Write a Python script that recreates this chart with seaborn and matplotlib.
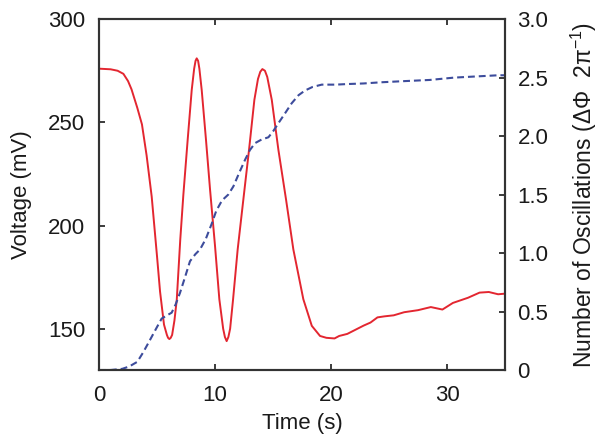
import matplotlib
matplotlib.use("Agg")
import matplotlib.pyplot as plt
import seaborn as sns

sns.set_style("ticks")
plt.rcParams['font.family'] = ['Liberation Sans', 'DejaVu Sans']
plt.rcParams['mathtext.fontset'] = 'custom'
plt.rcParams['mathtext.rm'] = 'Liberation Sans'
plt.rcParams['mathtext.it'] = 'Liberation Sans:italic'

# voltage trace (mV) vs time (s)
time_v = [0, 1, 1.6, 2.1, 2.5, 2.8, 3.3, 3.7, 4.1, 4.54, 5.0, 5.26, 5.6, 5.85,
          5.95, 6.06, 6.18, 6.3, 6.5, 6.7, 7.0, 7.27, 7.64, 7.99, 8.2, 8.32, 8.42,
          8.54, 8.65, 8.85, 9.22, 9.57, 10.0, 10.37, 10.7, 10.85, 11.0, 11.15,
          11.3, 11.55, 11.95, 12.44, 12.93, 13.39, 13.7, 13.9, 14.08, 14.3, 14.5,
          14.89, 15.46, 16.12, 16.75, 17.61, 18.34, 19.05, 19.6, 20.3, 20.7, 21.4,
          22.1, 22.8, 23.4, 24.0, 24.6, 25.4, 26.3, 27.5, 28.6, 29.6, 30.5, 31.8,
          32.8, 33.6, 34.4, 35]
voltage = [276, 275.7, 275, 273.5, 270, 266, 257, 249, 234, 214, 185, 168, 152,
           147, 145.6, 145, 145.6, 147, 154, 164, 193, 215, 241.5, 265.7, 276,
           279.8, 281, 279.8, 276, 265.7, 241.5, 217.4, 190, 164.3, 150, 146, 144,
           146, 150, 164, 188.4, 212.6, 236.7, 260.9, 271, 274.5, 275.8, 275,
           272, 260.9, 236.7, 212.6, 188.4, 164.3, 151.4, 146.5, 145.6, 145.3,
           146.5, 147.5, 149.5, 151.5, 153, 155.5, 156, 156.5, 158, 159, 160.5,
           159.3, 162.5, 165, 167.5, 167.8, 166.7, 167]

# number of oscillations vs time (s)
time_n = [0, 1, 2, 2.6, 3.3, 3.8, 4.3, 4.9, 5.4, 5.9, 6.26, 6.6, 6.98, 7.4, 7.84,
          8.3, 8.7, 9.2, 9.71, 10.1, 10.6, 11.14, 11.58, 12.1, 12.6, 13.0, 13.45,
          14.0, 14.6, 15.0, 15.46, 16.0, 16.6, 17.2, 17.76, 18.4, 19.2, 20.4, 21.4,
          22.8, 24.3, 26.3, 28.5, 30.6, 32.5, 34.4, 35]
n_osc = [0, 0, 0.01, 0.03, 0.07, 0.15, 0.24, 0.35, 0.44, 0.47, 0.49, 0.56, 0.66,
         0.79, 0.93, 0.99, 1.03, 1.12, 1.25, 1.36, 1.45, 1.5, 1.57, 1.69, 1.8, 1.88,
         1.94, 1.97, 1.99, 2.04, 2.11, 2.19, 2.28, 2.35, 2.39, 2.42, 2.44, 2.44,
         2.445, 2.45, 2.46, 2.47, 2.48, 2.5, 2.51, 2.52, 2.52]

fig = plt.figure(figsize=(6.02, 4.45), dpi=100)
ax = fig.add_axes([0.1645, 0.1685, 0.6745, 0.7885])
ax2 = ax.twinx()

sns.lineplot(x=time_v, y=voltage, ax=ax, color="#e32630", lw=1.4)
sns.lineplot(x=time_n, y=n_osc, ax=ax2, color="#3d4c9c", lw=1.5,
             linestyle=(0, (3.3, 1.9)))

ax.set_xlim(0, 35)
ax.set_ylim(130, 300)
ax2.set_ylim(0, 3)
ax.set_xticks([0, 10, 20, 30])
ax.set_yticks([150, 200, 250, 300])
ax2.set_yticks([0, 0.5, 1, 1.5, 2, 2.5, 3])
ax2.set_yticklabels(["0", "0.5", "1.0", "1.5", "2.0", "2.5", "3.0"])

for a in (ax, ax2):
    for s in a.spines.values():
        s.set_visible(True)
        s.set_linewidth(1.5)
        s.set_color("#333333")
ax.tick_params(axis="x", direction="in", length=4, width=1.2, top=True,
               labelsize=16, pad=11, colors="#1a1a1a")
ax.tick_params(axis="y", direction="in", length=4, width=1.2,
               labelsize=16, pad=10, colors="#1a1a1a")
ax2.tick_params(axis="y", direction="in", length=4, width=1.2,
                labelsize=16, pad=9, colors="#1a1a1a")

ax.set_xlabel("Time (s)", fontsize=16, color="#1a1a1a")
ax.set_ylabel("Voltage (mV)", fontsize=16, color="#1a1a1a")
ax2.set_ylabel("Number of Oscillations (ΔΦ  2π$^{-1}$)", fontsize=16.5,
               color="#1a1a1a", rotation=90)
ax.xaxis.set_label_coords(0.5, -0.1225)
ax.yaxis.set_label_coords(-0.165, 0.5)
ax2.yaxis.set_label_coords(1.158, 0.5)

fig.savefig("out.png", dpi=100)
